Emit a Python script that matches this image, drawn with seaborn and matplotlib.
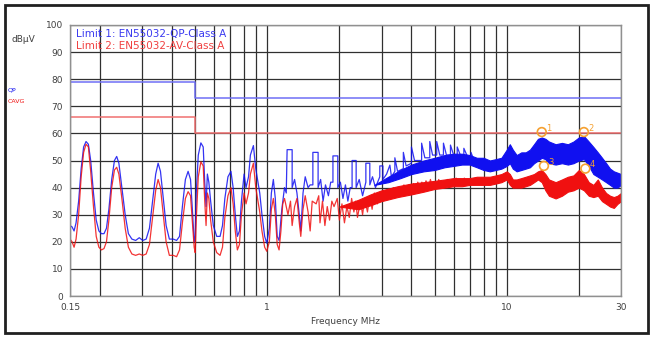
import numpy as np
import pandas as pd
import matplotlib
matplotlib.use("Agg")
import matplotlib.pyplot as plt
import seaborn as sns
from matplotlib.patches import Rectangle

# QP trace, 0.15 - 7.5 MHz
qp_freq = [0.150, 0.153, 0.156, 0.159, 0.163, 0.167, 0.171, 0.175, 0.179, 0.183, 0.188, 0.193, 0.198, 0.203,
           0.208, 0.213, 0.218, 0.224, 0.230, 0.235, 0.240, 0.247, 0.255, 0.263, 0.272, 0.282, 0.292, 0.302,
           0.312, 0.322, 0.332, 0.342, 0.350, 0.358, 0.368, 0.378, 0.390, 0.405, 0.418, 0.430, 0.442, 0.455,
           0.467, 0.478, 0.488, 0.495, 0.500, 0.505, 0.515, 0.528, 0.540, 0.548, 0.555, 0.562, 0.570, 0.580,
           0.595, 0.615, 0.635, 0.650, 0.665, 0.685, 0.705, 0.720, 0.735, 0.750, 0.765, 0.780, 0.800, 0.815,
           0.835, 0.850, 0.875, 0.895, 0.910, 0.930, 0.950, 0.975, 0.995, 1.02, 1.04, 1.06, 1.08, 1.10, 1.12,
           1.15, 1.18, 1.20, 1.21, 1.27, 1.27, 1.30, 1.33, 1.36, 1.38, 1.41, 1.44, 1.48, 1.51, 1.55, 1.55,
           1.63, 1.63, 1.67, 1.71, 1.75, 1.80, 1.84, 1.88, 1.88, 1.97, 1.97, 2.02, 2.07, 2.12, 2.17, 2.22,
           2.26, 2.26, 2.35, 2.35, 2.42, 2.50, 2.58, 2.58, 2.68, 2.68, 2.75, 2.83, 2.95, 2.95, 3.04, 3.04,
           3.15, 3.25, 3.30, 3.41, 3.41, 3.50, 3.70, 3.70, 3.80, 4.00, 4.00, 4.12, 4.41, 4.41, 4.55, 4.77,
           4.77, 4.90, 5.10, 5.10, 5.25, 5.44, 5.44, 5.60, 5.82, 5.82, 6.00, 6.21, 6.21, 6.40, 6.62, 6.62,
           6.85, 7.09, 7.09, 7.30, 7.50]
qp_level = [26, 25.5, 24, 27, 35, 47, 55, 57, 56, 50, 38, 28, 24, 23,
            23, 25, 32, 43, 50, 51.5, 49, 40, 30, 23, 21, 20.5, 21.5, 20.5,
            21, 25, 35, 45, 49, 46, 36, 26, 21, 21, 20.5, 22, 33, 43,
            46, 43, 30, 20, 22, 38, 52, 56.5, 55, 42, 33, 45, 42, 35,
            26, 22, 22, 26, 36, 44, 46, 40, 30, 22, 24, 35, 45, 40,
            44, 52, 55.5, 47, 43, 38, 30, 22, 19.5, 25, 38, 43, 36, 22, 20.5,
            32, 40, 38, 54, 54, 40, 43, 38, 30, 24, 38, 44, 40, 41, 41, 53,
            53, 40, 43, 35, 41, 37, 42, 42, 51.7, 51.7, 40, 42, 36, 41, 35, 40,
            40, 50, 50, 40, 43, 37, 42, 49, 49, 41, 44, 40, 44, 48, 48, 43,
            45, 48.3, 44, 46, 51, 46, 47, 53, 48, 49, 55, 50, 50, 56.4, 51, 51,
            57, 52, 52, 57, 52, 52, 56.4, 52, 52, 55.7, 52, 52, 55, 52, 52, 54.5,
            51.5, 51, 53, 50, 50]

# CAVG trace, 0.15 - 7.5 MHz
av_freq = [0.150, 0.153, 0.156, 0.159, 0.163, 0.167, 0.171, 0.175, 0.179, 0.183, 0.188, 0.193, 0.198, 0.203,
           0.208, 0.213, 0.218, 0.224, 0.230, 0.235, 0.240, 0.247, 0.255, 0.263, 0.272, 0.282, 0.292, 0.302,
           0.312, 0.322, 0.332, 0.342, 0.350, 0.358, 0.368, 0.378, 0.390, 0.405, 0.418, 0.430, 0.442, 0.455,
           0.467, 0.478, 0.488, 0.495, 0.500, 0.505, 0.515, 0.528, 0.540, 0.548, 0.555, 0.562, 0.570, 0.580,
           0.595, 0.615, 0.635, 0.650, 0.665, 0.685, 0.705, 0.720, 0.735, 0.750, 0.765, 0.780, 0.800, 0.815,
           0.835, 0.850, 0.875, 0.895, 0.910, 0.930, 0.950, 0.975, 0.995, 1.02, 1.04, 1.06, 1.08, 1.10, 1.12,
           1.14, 1.16, 1.18, 1.22, 1.25, 1.27, 1.30, 1.33, 1.36, 1.38, 1.41, 1.44, 1.48, 1.51, 1.54, 1.60,
           1.64, 1.66, 1.70, 1.74, 1.78, 1.82, 1.86, 1.90, 1.96, 2.00, 2.05, 2.10, 2.15, 2.20, 2.25, 2.30,
           2.34, 2.38, 2.45, 2.50, 2.55, 2.62, 2.68, 2.74, 2.80, 2.88, 2.95, 3.00, 3.06, 3.12, 3.20, 3.30,
           3.36, 3.45, 3.55, 3.65, 3.72, 3.80, 3.90, 4.00, 4.08, 4.15, 4.25, 4.35, 4.42, 4.50, 4.60, 4.72,
           4.80, 4.90, 5.00, 5.12, 5.20, 5.30, 5.45, 5.58, 5.65, 5.75, 5.90, 6.05, 6.15, 6.25, 6.40, 6.55,
           6.65, 6.75, 6.90, 7.05, 7.15, 7.30, 7.50]
av_level = [21, 20, 18, 21, 30, 44, 53, 56, 55, 46, 33, 22, 18, 17,
            17.5, 20, 28, 40, 46.5, 47.5, 45, 36, 25, 18, 15.5, 15, 15.5, 15,
            15.5, 19, 29, 39, 43, 40, 30, 20, 15, 15, 14.5, 17, 27, 36,
            38.5, 37, 26, 18, 16, 28, 44, 49.5, 48, 35, 26, 38, 36, 28,
            20, 16, 15, 18, 29, 37, 40, 34, 24, 17, 19, 30, 38, 34,
            38, 45, 49, 40, 36, 31, 24, 18, 16.5, 20, 32, 36, 30, 19, 17,
            24, 34, 36, 30, 35, 26, 33, 36, 27, 22, 32, 37, 31, 24, 35, 34,
            37, 27, 35, 26, 33, 28, 35, 33, 36, 28, 34, 27, 33, 29, 36, 31,
            35, 29, 35, 30, 36, 31, 37, 32, 38, 34, 38, 35, 39, 36, 39, 37,
            40, 37, 40, 38, 41, 38, 41, 39, 41.5, 39, 42, 40, 42, 40, 42.5, 40,
            43, 40, 42, 40.5, 43, 40, 42.5, 41, 43, 40, 43, 41, 43.5, 41, 43, 41,
            43.5, 41, 43, 41.5, 43, 41, 43]

# dense noise of the scan: upper / lower envelope
qp_band_freq = [2.8, 3.2, 3.6, 4.0, 4.5, 5.0, 5.5, 6.0, 6.5, 7.0, 7.5,
                8.0, 8.5, 9.0, 9.5, 10.0, 10.3, 10.6, 11.0, 11.5, 12.0, 12.5, 13.0, 13.5, 14.0, 14.5,
                15.0, 16.0, 17.0, 18.0, 19.0, 20.0, 21.0, 22.0, 23.0, 24.0, 25.0, 26.0, 27.0, 28.0, 29.0, 30.0]
qp_hi = [41, 44, 46.5, 48.5, 50, 51, 52, 52.5, 52.5, 52, 51,
         51, 50, 50.5, 51, 54, 56, 54, 52, 53, 53, 54, 56, 58, 58.5, 58,
         57, 56, 56.5, 56, 57, 58.5, 59, 57, 55, 53, 51, 49, 47, 46, 45.5, 45]
qp_lo = [41, 42, 43.5, 45, 46, 46.5, 47.5, 48, 48.5, 48.5, 47.5,
         46.5, 46, 46.5, 47, 48, 49, 47, 46, 46.5, 47, 47.5, 49, 50, 51, 50.5,
         49, 48.5, 49, 48.5, 49, 50, 50.5, 48, 45, 44, 43, 42, 41, 40, 40, 41]

av_band_freq = [2.0, 2.4, 2.7, 3.0, 3.5, 4.0, 4.5, 5.0, 5.5, 6.0, 6.5, 7.0, 7.5,
                8.0, 8.5, 9.0, 9.5, 10.0, 10.3, 10.6, 11.0, 11.5, 12.0, 12.5, 13.0, 13.5, 14.0, 14.5,
                15.0, 16.0, 17.0, 18.0, 19.0, 20.0, 21.0, 22.0, 23.0, 24.0, 25.0, 26.0, 27.0, 28.0, 29.0, 30.0]
av_hi = [33, 35.5, 37.5, 39, 40.5, 41.5, 42, 42.5, 43, 43.5, 43.5, 43.5, 44,
         44, 44, 44.5, 45, 46, 45, 43, 43, 43.5, 44, 44.5, 45, 46, 46.5, 45,
         43, 42, 43, 44, 44.5, 46.5, 45, 42, 41, 43, 40, 38, 37, 36.5, 37, 38]
av_lo = [33, 32, 33.5, 35, 36.5, 37.5, 38.5, 39.5, 40, 40.5, 40.5, 41, 41,
         41, 41, 41.5, 42, 43, 41, 40, 40, 40, 40.5, 41, 42, 43, 42, 39,
         37, 36, 37, 38.5, 39, 40, 39, 37, 36.5, 37, 35, 34, 33, 32.5, 34, 35]

# limit lines EN55032 class A
lim_freq = [0.15, 0.5, 0.5, 30]
lim_qp = [79, 79, 73, 73]
lim_av = [66, 66, 60, 60]

# final measurement markers
mark_freq = [14.0, 21.0, 14.3, 21.3]
mark_level = [60.5, 60.5, 48, 47]
mark_label = ["1", "2", "3", "4"]

BLUE = "#1010f0"
RED = "#f01010"

sns.set_style("white")
plt.rcParams["font.family"] = ["DejaVu Sans"]

fig = plt.figure(figsize=(6.51, 3.38), dpi=100)
ax = fig.add_axes([70 / 651, 42 / 338, 551 / 651, 271 / 338])

qp = pd.DataFrame({"freq": qp_freq, "level": qp_level})
av = pd.DataFrame({"freq": av_freq, "level": av_level})
lim = pd.DataFrame({"freq": lim_freq, "qp": lim_qp, "av": lim_av})

sns.lineplot(data=lim, x="freq", y="qp", ax=ax, color="#6f6ff5", lw=1.1, sort=False, estimator=None)
sns.lineplot(data=lim, x="freq", y="av", ax=ax, color="#f07070", lw=1.1, sort=False, estimator=None)

# QP first, average trace drawn over it
ax.fill_between(qp_band_freq, qp_lo, qp_hi, color=BLUE, lw=0.8)
sns.lineplot(data=qp, x="freq", y="level", ax=ax, color=BLUE, lw=0.9, alpha=0.85, sort=False, estimator=None)
ax.fill_between(av_band_freq, av_lo, av_hi, color=RED, lw=0.8)
sns.lineplot(data=av, x="freq", y="level", ax=ax, color=RED, lw=0.9, alpha=0.85, sort=False, estimator=None)

ax.scatter(mark_freq, mark_level, s=40, facecolors="none", edgecolors="#f5a030", lw=1.2, zorder=5)
for f, v, t in zip(mark_freq, mark_level, mark_label):
    ax.text(f * 1.04, v + 0.5, t, color="#f5a030", fontsize=6, zorder=6)

ax.set_xscale("log")
ax.set_xlim(0.15, 30)
ax.set_ylim(0, 100)
ax.set_xticks([0.15, 1, 10, 30])
ax.set_xticklabels(["0.15", "1", "10", "30"])
ax.set_xticks([0.2, 0.3, 0.4, 0.5, 0.6, 0.7, 0.8, 0.9, 2, 3, 4, 5, 6, 7, 8, 9, 20], minor=True)
ax.xaxis.set_minor_formatter(plt.NullFormatter())
ax.set_yticks(range(0, 101, 10))
ax.grid(True, which="both", color="#303030", lw=0.9)
ax.tick_params(axis="both", which="both", length=0, labelsize=6.5, labelcolor="#404040", pad=5)
for s in ax.spines.values():
    s.set_color("#909090")
    s.set_linewidth(1.0)
ax.set_xlabel("Frequency MHz", fontsize=6.5, color="#404040", labelpad=4)
ax.set_ylabel("")

ax.text(0.011, 0.985, "Limit 1: EN55032-QP-Class A", transform=ax.transAxes, color="#3a3af0",
        fontsize=7.5, va="top")
ax.text(0.011, 0.94, "Limit 2: EN55032-AV-Class A", transform=ax.transAxes, color="#f04040",
        fontsize=7.5, va="top")

fig.text(12 / 651, 1 - 40 / 338, "dBµV", fontsize=6.5, color="#404040", va="center")
fig.text(8 / 651, 1 - 90 / 338, "QP", fontsize=4.5, color=BLUE, va="center")
fig.text(8 / 651, 1 - 101 / 338, "CAVG", fontsize=4.5, color=RED, va="center")

fig.add_artist(Rectangle((5 / 651, 5 / 338), 643 / 651, 328 / 338, transform=fig.transFigure,
                         fill=False, edgecolor="#202020", lw=2))

fig.savefig("out.png", dpi=100)
